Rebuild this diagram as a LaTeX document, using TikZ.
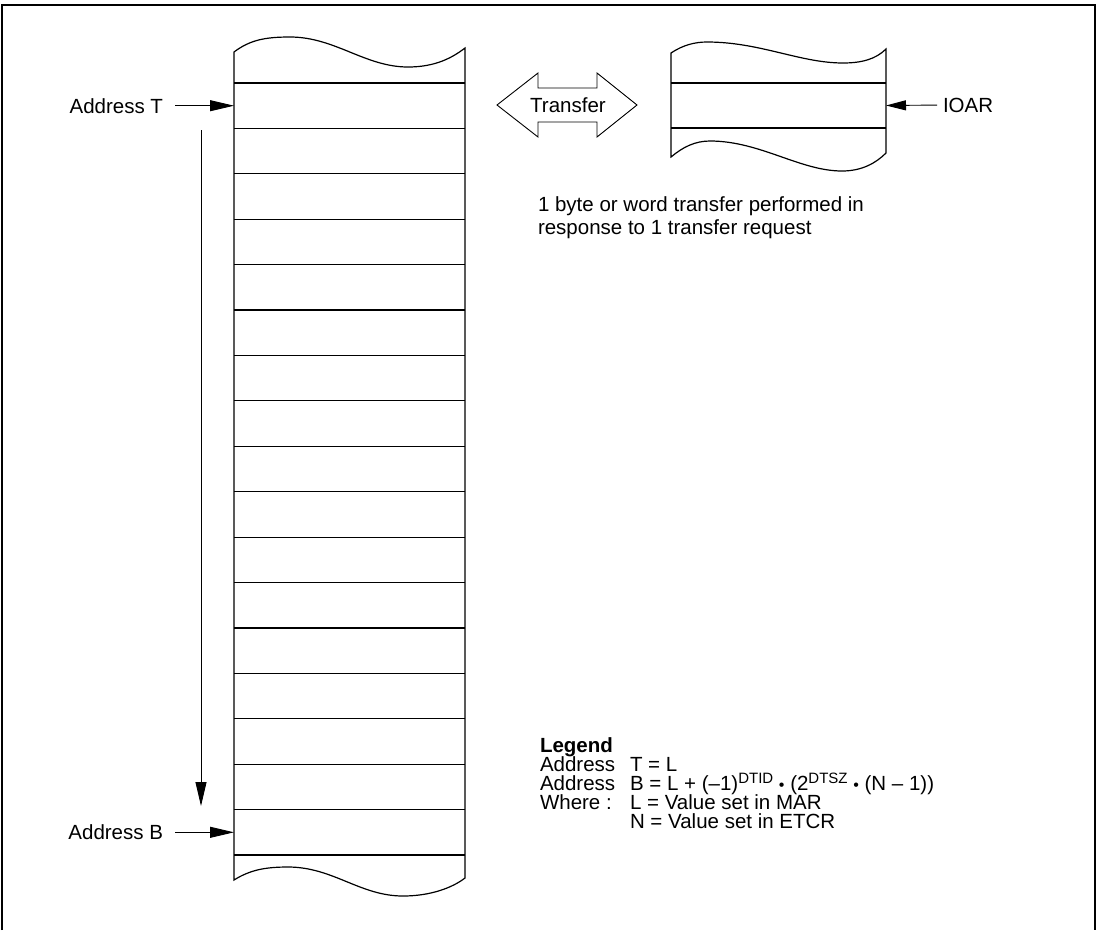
\documentclass[tikz,border=0pt]{standalone}
\usepackage{fontspec}
\setmainfont{Liberation Sans}
\usetikzlibrary{arrows.meta}
\newcommand{\supx}[1]{\raisebox{0.62ex}{\fontsize{15}{15}\selectfont #1}}
\newcommand{\mdot}{{\fontsize{16}{16}\selectfont•}}
\begin{document}
\begin{tikzpicture}[x=1pt,y=-1pt,
  every node/.style={inner sep=0pt, outer sep=0pt, font=\fontsize{20.5}{24}\selectfont},
  cell/.style={line width=1.2pt},
  arr/.style={line width=0.9pt, -{Triangle[length=24pt,width=11pt]}},
  sarr/.style={line width=0.9pt, -{Triangle[length=20pt,width=10pt]}},
  lab/.style={anchor=base west},
  slot/.style={minimum width=231pt, minimum height=45pt}]
\useasboundingbox (0,0) rectangle (1100,930);
% frame
\draw[line width=2pt] (2,930) -- (2,5) -- (1095,5) -- (1095,930);
% left memory column
\draw[cell] (234,52) -- (234,880) .. controls (250,870) and (265,867) .. (288,867)
  .. controls (333,867) and (360,896) .. (403,896)
  .. controls (430,896) and (452,888) .. (465,878) -- (465,48)
  .. controls (452,58) and (435,67) .. (408,67)
  .. controls (365,67) and (335,37) .. (290,37)
  .. controls (265,37) and (250,40) .. (234,52) -- cycle;
\foreach \i in {0,...,17} \draw[cell] (234,{83+\i*45.41}) -- (465,{83+\i*45.41});
\node[slot] (rowT) at (349.5,105.7) {};
\node[slot] (rowB) at (349.5,832.3) {};
% right IO block
\draw[cell] (671,53) -- (671,157) .. controls (683,147) and (695,141) .. (710,141)
  .. controls (760,141) and (800,171) .. (842,171)
  .. controls (862,171) and (876,163) .. (886,153) -- (886,49)
  .. controls (876,59) and (862,63) .. (843,63)
  .. controls (800,63) and (760,42) .. (707,42)
  .. controls (695,42) and (683,45) .. (671,53) -- cycle;
\draw[cell] (671,83) -- (886,83);
\draw[cell] (671,128) -- (886,128);
\node[minimum width=215pt, minimum height=45pt] (iorow) at (778.5,105.5) {};
% transfer double arrow
\draw[line width=0.9pt] (497,105) -- (538,73) -- (538,88) -- (597,88) -- (597,73) -- (637,105)
  -- (597,137) -- (597,122) -- (538,122) -- (538,137) -- cycle;
\node (xfer) at (568,105) {Transfer};
% IOAR
\node[anchor=west] (ioar) at (943,105) {IOAR};
\draw[sarr, shorten <=6pt] (ioar.west) -- (iorow.east);
% address labels
\node[anchor=east] (addrT) at (163,105.7) {Address T};
\draw[arr, shorten <=12pt] (addrT.east) -- (rowT.west);
\node[anchor=east] (addrB) at (163,832.3) {Address B};
\draw[arr, shorten <=12pt] (addrB.east) -- (rowB.west);
% direction arrow
\coordinate (vs) at (201,130);
\coordinate (ve) at (201,806);
\draw[arr] (vs) -- (ve);
% note
\node[lab] (note1) at (538,211) {1 byte or word transfer performed in};
\node[lab] (note2) at (538,234) {response to 1 transfer request};
% legend
\node[lab] (lg0) at (540,752) {\bfseries Legend};
\node[lab] (lg1) at (540,771) {Address};
\node[lab] (lg2) at (540,790) {Address};
\node[lab] (lg3) at (540,809) {Where :};
\node[lab] (lf1) at (630,771) {T = L};
\node[lab] (lf2) at (630,790) {B = L + (–1)\supx{DTID} \mdot{} (2\supx{DTSZ} \mdot{} (N – 1))};
\node[lab] (lf3) at (630,809) {L = Value set in MAR};
\node[lab] (lf4) at (630,828) {N = Value set in ETCR};
\end{tikzpicture}
\end{document}
